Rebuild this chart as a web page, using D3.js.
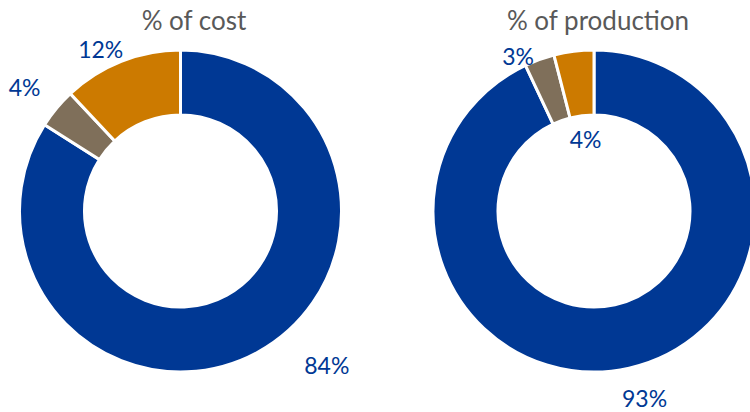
<!DOCTYPE html>
<html>
<head>
<meta charset="utf-8">
<script src="https://cdn.jsdelivr.net/npm/d3@7"></script>
<style>
  html, body { margin: 0; padding: 0; background: #fff; }
  svg { display: block; font-family: "Lato", "Noto Sans", sans-serif; }
</style>
</head>
<body>
<svg id="chart" width="750" height="412"></svg>
<script>
// Share of each category, in percent
const categories = ["Main", "Other A", "Other B"];
const costShares = [84, 4, 12];
const productionShares = [93, 3, 4];
const chartTitles = ["% of cost", "% of production"];

const colors = d3.scaleOrdinal()
  .domain(categories)
  .range(["#003894", "#7f6f5a", "#cc7a00"]);

// Label placement around each ring: [angle in degrees clockwise from 12 o'clock, distance from centre]
const costLabelPolar = [[136.6, 213], [308.4, 199], [333.7, 180]];
const productionLabelPolar = [[164.9, 194], [333.8, 172], [353.2, 71.5]];

const svg = d3.select("#chart");
const outerR = 161, innerR = 96;

const pie = d3.pie().sort(null).value(d => d);
const arc = d3.arc().innerRadius(innerR).outerRadius(outerR);

const panels = [
  { title: chartTitles[0], values: costShares, polar: costLabelPolar, cx: 180.5, cy: 211, titleX: 194 },
  { title: chartTitles[1], values: productionShares, polar: productionLabelPolar, cx: 594, cy: 211, titleX: 598 }
];

panels.forEach(p => {
  svg.append("text")
    .attr("x", p.titleX)
    .attr("y", 30)
    .attr("text-anchor", "middle")
    .attr("fill", "#595959")
    .style("font-size", "26px")
    .text(p.title);

  const g = svg.append("g").attr("transform", `translate(${p.cx},${p.cy})`);
  const arcs = pie(p.values);

  g.selectAll("path")
    .data(arcs)
    .join("path")
    .attr("d", arc)
    .attr("fill", (d, i) => colors(categories[i]))
    .attr("stroke", "#fff")
    .attr("stroke-width", 3)
    .attr("stroke-linejoin", "miter");

  g.selectAll("text.lbl")
    .data(arcs)
    .join("text")
    .attr("class", "lbl")
    .attr("x", (d, i) => Math.sin(p.polar[i][0] * Math.PI / 180) * p.polar[i][1])
    .attr("y", (d, i) => -Math.cos(p.polar[i][0] * Math.PI / 180) * p.polar[i][1])
    .attr("dy", "0.36em")
    .attr("text-anchor", "middle")
    .attr("fill", "#003894")
    .style("font-size", "23px")
    .text(d => d.data + "%");
});
</script>
</body>
</html>
